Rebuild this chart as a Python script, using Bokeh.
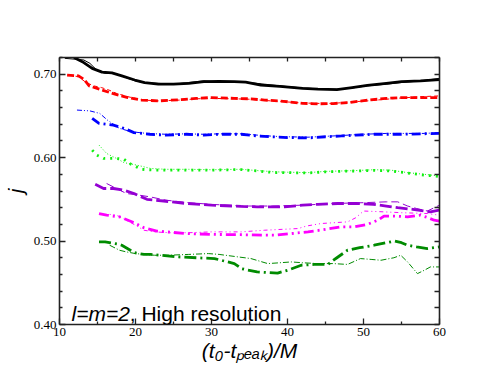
from bokeh.plotting import figure
from bokeh.models import Range1d, LinearAxis, FixedTicker, PrintfTickFormatter, Label
from bokeh.embed import file_html
from bokeh.resources import INLINE

# ---------------- data ----------------
x_ticks = [10, 20, 30, 40, 50, 60]
x_minor = [15, 25, 35, 45, 55]
y_ticks = [0.40, 0.50, 0.60, 0.70]
y_minor = [0.42, 0.44, 0.46, 0.48, 0.52, 0.54, 0.56, 0.58, 0.62, 0.64, 0.66, 0.68, 0.72]

black_thick_x = [11.9, 13, 14.3, 15.6, 16.9, 18.2, 19.9, 21.2, 23, 25, 27, 29, 31, 33, 34.5, 36.5, 39, 42, 44, 46.5, 48.5, 50.5, 53, 55, 57.5, 60]
black_thick_y = [0.720, 0.715, 0.707, 0.7025, 0.7015, 0.698, 0.693, 0.690, 0.688, 0.688, 0.689, 0.691, 0.6915, 0.691, 0.6905, 0.687, 0.6855, 0.683, 0.682, 0.6815, 0.684, 0.6865, 0.689, 0.691, 0.692, 0.6935]
black_thin_x = [10.7, 12, 13.2, 14, 15, 16, 17, 18, 19, 20, 21, 23, 25, 27, 29, 31, 33, 35, 37, 39, 42, 44, 46.5, 48.5, 50.5, 53, 55, 57.5, 60]
black_thin_y = [0.719, 0.718, 0.717, 0.713, 0.704, 0.701, 0.701, 0.699, 0.695, 0.692, 0.690, 0.689, 0.688, 0.690, 0.692, 0.6905, 0.691, 0.690, 0.688, 0.686, 0.6835, 0.6825, 0.682, 0.6835, 0.686, 0.688, 0.690, 0.692, 0.695]

red_thick_x = [11.0, 12.5, 13.2, 13.9, 15.6, 17.3, 19, 20.8, 23, 26, 28, 30, 33, 35, 37, 39.5, 42, 44, 46, 48, 50.5, 53, 55, 57.5, 60]
red_thick_y = [0.699, 0.698, 0.694, 0.686, 0.681, 0.676, 0.672, 0.669, 0.668, 0.6695, 0.671, 0.672, 0.671, 0.6705, 0.669, 0.6675, 0.665, 0.6645, 0.6648, 0.666, 0.6688, 0.671, 0.672, 0.672, 0.672]
red_thin_x = [11.2, 12.5, 13.5, 14.5, 15.5, 16.5, 17.5, 19, 21, 23, 26, 28, 30, 33, 35, 37, 39.5, 42, 44, 46, 48, 50.5, 53, 55, 57.5, 60]
red_thin_y = [0.699, 0.697, 0.690, 0.686, 0.684, 0.681, 0.677, 0.673, 0.669, 0.668, 0.669, 0.6705, 0.671, 0.6705, 0.670, 0.6685, 0.667, 0.6655, 0.665, 0.665, 0.6665, 0.668, 0.670, 0.6715, 0.673, 0.674]

blue_thick_x = [14.3, 15.2, 17.1, 18.5, 19.8, 21.9, 24, 26.7, 29, 31, 33.9, 36, 38.3, 40, 42.7, 45, 47.1, 49, 51.4, 53, 55, 58, 60]
blue_thick_y = [0.647, 0.641, 0.639, 0.635, 0.630, 0.628, 0.627, 0.628, 0.627, 0.628, 0.628, 0.626, 0.6248, 0.624, 0.6236, 0.625, 0.626, 0.627, 0.628, 0.628, 0.628, 0.6286, 0.629]
blue_thin_x = [12.3, 14, 15.3, 16.3, 17.9, 19.5, 21.5, 24, 26.7, 29, 31, 33.9, 36, 38.3, 40, 42.7, 45, 47.1, 49, 51.4, 53, 55, 58, 60]
blue_thin_y = [0.657, 0.656, 0.653, 0.645, 0.635, 0.631, 0.629, 0.628, 0.6285, 0.628, 0.6285, 0.6285, 0.627, 0.6255, 0.625, 0.6245, 0.6255, 0.6265, 0.6275, 0.6285, 0.629, 0.629, 0.629, 0.630]

lime_thick_x = [14.3, 14.9, 15.8, 17.5, 18.5, 19.2, 20.8, 22.4, 26.7, 30, 33.9, 36, 38.3, 40, 42.7, 45, 47.1, 49, 51.4, 53.6, 55.8, 58, 59.8]
lime_thick_y = [0.609, 0.603, 0.599, 0.599, 0.598, 0.593, 0.586, 0.585, 0.585, 0.585, 0.5857, 0.584, 0.582, 0.582, 0.5816, 0.583, 0.5836, 0.584, 0.5848, 0.584, 0.5816, 0.579, 0.5776]
lime_thin_x = [15.2, 16.2, 17.5, 18.5, 20.2, 22, 24, 27, 30, 33.9, 36, 38.3, 40, 42.7, 45, 47.1, 49, 51.4, 53.6, 55.8, 58, 60]
lime_thin_y = [0.615, 0.605, 0.599, 0.594, 0.591, 0.587, 0.586, 0.586, 0.5855, 0.586, 0.5845, 0.583, 0.5825, 0.582, 0.5835, 0.584, 0.5845, 0.5855, 0.585, 0.582, 0.580, 0.578]

purple_thick_x = [14.7, 15.8, 17.1, 18.5, 19.8, 21.5, 23.7, 26.7, 30, 33.9, 36, 39.6, 42, 44, 46.6, 49, 51.3, 53, 54.5, 56.5, 58.8, 60]
purple_thick_y = [0.568, 0.563, 0.563, 0.561, 0.557, 0.550, 0.548, 0.545, 0.543, 0.5416, 0.541, 0.541, 0.543, 0.544, 0.545, 0.545, 0.544, 0.542, 0.540, 0.538, 0.535, 0.537]
purple_thin_x = [16.2, 17.5, 18.8, 20.5, 21.9, 24, 27, 30, 34, 38, 42, 46, 50, 53, 54.5, 55.8, 57, 58.4, 60]
purple_thin_y = [0.569, 0.563, 0.557, 0.555, 0.553, 0.549, 0.546, 0.544, 0.542, 0.542, 0.543, 0.545, 0.546, 0.547, 0.547, 0.542, 0.539, 0.536, 0.543]

magenta_thick_x = [15.2, 16.2, 17.9, 19.8, 21.1, 22.8, 26.7, 30, 33.9, 38.3, 42.7, 45, 47, 48.8, 50.5, 51.9, 52.7, 54, 55.8, 57.5, 58.5, 59.3, 60]
magenta_thick_y = [0.533, 0.531, 0.529, 0.522, 0.516, 0.512, 0.509, 0.508, 0.5076, 0.507, 0.511, 0.514, 0.517, 0.517, 0.520, 0.525, 0.530, 0.530, 0.529, 0.531, 0.528, 0.525, 0.524]
magenta_thin_x = [16.6, 17.5, 18.8, 20, 21.1, 22.5, 24.5, 27, 30, 33.9, 37, 41.4, 42.5, 44.4, 47.9, 49, 50, 52.7, 55, 58.4, 60]
magenta_thin_y = [0.532, 0.531, 0.525, 0.519, 0.513, 0.511, 0.510, 0.510, 0.511, 0.511, 0.513, 0.515, 0.518, 0.521, 0.523, 0.528, 0.536, 0.535, 0.534, 0.533, 0.531]

dgreen_thick_x = [15.2, 16, 17.9, 18.2, 19.9, 21.1, 22, 24.5, 25.7, 28, 30.4, 33, 34, 36, 38.7, 40, 41.8, 43.5, 45.3, 46.5, 47.9, 49.5, 51.4, 53, 54.1, 55, 55.8, 57, 58.4, 60]
dgreen_thick_y = [0.499, 0.499, 0.496, 0.495, 0.486, 0.484, 0.484, 0.482, 0.481, 0.480, 0.479, 0.473, 0.4668, 0.463, 0.4616, 0.465, 0.471, 0.472, 0.472, 0.480, 0.489, 0.492, 0.495, 0.498, 0.500, 0.498, 0.495, 0.493, 0.491, 0.493]
dgreen_thin_x = [16.6, 17.9, 18.8, 20, 21.1, 22.5, 24.3, 27, 29.6, 31, 33, 35.2, 37.4, 39, 40.5, 42, 44, 46, 47.9, 49.6, 51, 52.3, 54, 54.9, 55.8, 57.1, 58, 58.8, 60]
dgreen_thin_y = [0.495, 0.489, 0.487, 0.485, 0.484, 0.483, 0.483, 0.484, 0.485, 0.484, 0.4816, 0.479, 0.473, 0.474, 0.475, 0.474, 0.473, 0.473, 0.472, 0.479, 0.478, 0.477, 0.480, 0.483, 0.475, 0.461, 0.465, 0.469, 0.469]

series = [
    (black_thick_x, black_thick_y, "#000000", 2.8, "solid"),
    (black_thin_x, black_thin_y, "#000000", 1.0, "solid"),
    (red_thick_x, red_thick_y, "#ff0000", 2.8, "7 3"),
    (red_thin_x, red_thin_y, "#ff0000", 1.0, "4 3"),
    (blue_thick_x, blue_thick_y, "#0000ff", 2.8, "9 4 2 4"),
    (blue_thin_x, blue_thin_y, "#0000ff", 1.0, "5 2 1 2 1 2"),
    (lime_thick_x, lime_thick_y, "#11f011", 2.8, "2 5"),
    (lime_thin_x, lime_thin_y, "#11f011", 1.0, "1 2"),
    (purple_thick_x, purple_thick_y, "#9400d3", 2.8, "12 4"),
    (purple_thin_x, purple_thin_y, "#9400d3", 1.0, "8 4"),
    (magenta_thick_x, magenta_thick_y, "#ff00ff", 2.8, "10 4 2 4 2 4"),
    (magenta_thin_x, magenta_thin_y, "#ff00ff", 1.0, "1 3 1 3 4 3"),
    (dgreen_thick_x, dgreen_thick_y, "#008b00", 2.8, "12 4 2 4"),
    (dgreen_thin_x, dgreen_thin_y, "#008b00", 1.0, "6 2 1 2"),
]

# ---------------- figure ----------------
X0, X1, Y0, Y1 = 10, 60, 0.40, 0.72
p = figure(width=486, height=374, output_backend="svg", toolbar_location=None,
           x_range=Range1d(X0, X1), y_range=Range1d(Y0, Y1),
           x_axis_location=None, y_axis_location=None,
           min_border_left=58, min_border_right=47, min_border_top=57, min_border_bottom=50)
p.grid.visible = False
p.outline_line_color = None
p.background_fill_color = "white"
p.border_fill_color = "white"

def style_axis(ax):
    ax.axis_line_color = "#222222"
    ax.axis_line_width = 1.6
    ax.major_tick_in = 6
    ax.major_tick_out = 0
    ax.minor_tick_in = 3
    ax.minor_tick_out = 0
    ax.major_tick_line_color = "#222222"
    ax.minor_tick_line_color = "#222222"
    ax.major_tick_line_width = 1.3
    ax.minor_tick_line_width = 1.3
    ax.major_label_text_font = "Liberation Serif"
    ax.major_label_text_font_size = "13px"
    ax.major_label_text_color = "black"
    ax.major_label_standoff = 3
    ax.axis_label_text_font = "Liberation Sans"
    ax.axis_label_text_font_style = "italic"
    ax.axis_label_text_font_size = "21px"
    ax.axis_label_text_color = "black"

# labelled axes
xb = LinearAxis(ticker=FixedTicker(ticks=x_ticks, minor_ticks=x_minor),
                formatter=PrintfTickFormatter(format="%d"),
                axis_label="(t\u2080-t\u209a\u2091\u2090\u2096)/M")
style_axis(xb)
xb.axis_label_standoff = 0
p.add_layout(xb, "below")

yl = LinearAxis(ticker=FixedTicker(ticks=y_ticks, minor_ticks=y_minor),
                formatter=PrintfTickFormatter(format="%.2f"), axis_label="j")
style_axis(yl)
yl.axis_label_standoff = 4
p.add_layout(yl, "left")

# mirrored tick-only axes (top / right)
xt = LinearAxis(ticker=FixedTicker(ticks=[], minor_ticks=x_ticks + x_minor))
style_axis(xt)
xt.minor_tick_in = 4
p.add_layout(xt, "above")
yr = LinearAxis(ticker=FixedTicker(ticks=[], minor_ticks=y_ticks + y_minor))
style_axis(yr)
yr.minor_tick_in = 5
p.add_layout(yr, "right")

for xs, ys, col, w, dash in series:
    p.line(xs, ys, line_color=col, line_width=w, line_dash=dash)

# pixel -> data helpers for annotation placement (frame 58..439 x 57..324 px)
def dx(px):
    return X0 + (px - 58) * (X1 - X0) / 381.0

def dy(py):
    return Y0 + (324 - py) * (Y1 - Y0) / 267.0

for text, px, style in [("l=m=2", 70, "italic"), (", High resolution", 128.4, "normal")]:
    p.add_layout(Label(x=dx(px), y=dy(312.7), text=text, text_font="Liberation Sans",
                       text_font_style=style, text_font_size="21px", text_color="black",
                       text_baseline="alphabetic", text_align="left"))

open("out.html", "w").write(file_html(p, INLINE))
